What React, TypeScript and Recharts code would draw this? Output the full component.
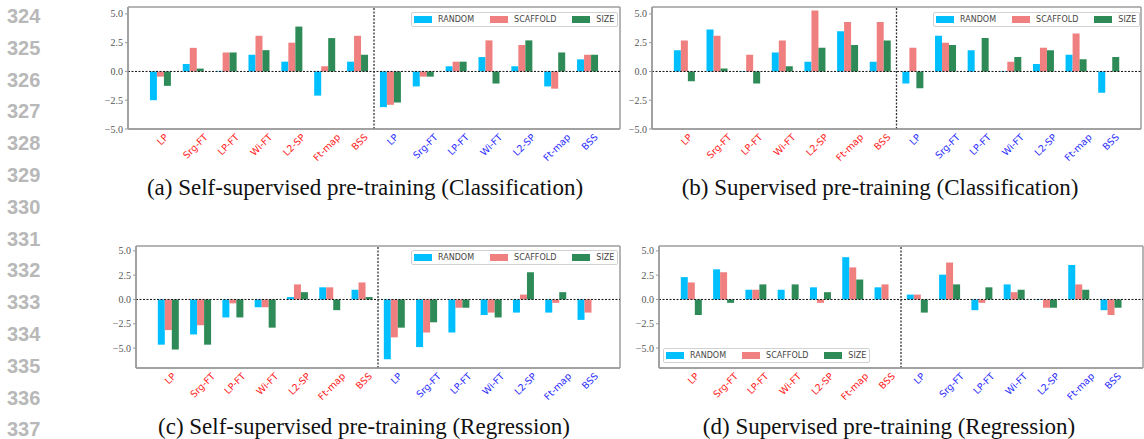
import React from 'react';
import { BarChart, Bar, XAxis, YAxis, ReferenceLine, Legend, CartesianGrid } from 'recharts';

// methods, shown twice per panel: red-labelled half then blue-labelled half
const METHODS = ['LP', 'Srg-FT', 'LP-FT', 'Wi-FT', 'L2-SP', 'Ft-map', 'BSS'];
const HALVES = ['red', 'blue'];
const SPLITS = ['RANDOM', 'SCAFFOLD', 'SIZE'];
const SPLIT_COLORS = ['#00bfff', '#f08080', '#2e8b57'];
const Y_TICKS = [-5, -2.5, 0, 2.5, 5];
const LINE_NUMBERS = ['324', '325', '326', '327', '328', '329', '330', '331', '332', '333', '334', '335', '336', '337'];

// (a) Self-supervised pre-training (Classification)
const A_RANDOM = [-2.5, 0.65, 0.05, 1.45, 0.85, -2.1, 0.85, -3.1, -1.3, 0.45, 1.25, 0.45, -1.3, 1.05];
const A_SCAFFOLD = [-0.45, 2.05, 1.65, 3.1, 2.5, 0.45, 3.1, -2.9, -0.45, 0.85, 2.7, 2.3, -1.5, 1.45];
const A_SIZE = [-1.25, 0.25, 1.65, 1.85, 3.9, 2.9, 1.45, -2.7, -0.45, 0.85, -1.05, 2.7, 1.65, 1.45];

// (b) Supervised pre-training (Classification)
const B_RANDOM = [1.85, 3.65, 0.05, 1.65, 0.85, 3.5, 0.85, -1.05, 3.1, 1.85, 0.05, 0.65, 1.45, -1.85];
const B_SCAFFOLD = [2.7, 3.1, 1.45, 2.7, 5.3, 4.3, 4.3, 2.05, 2.5, 0, 0.85, 2.05, 3.3, 0.05];
const B_SIZE = [-0.85, 0.25, -1.05, 0.45, 2.05, 2.3, 2.7, -1.45, 2.3, 2.9, 1.25, 1.85, 1.05, 1.25];

// (c) Self-supervised pre-training (Regression)
const C_RANDOM = [-4.65, -3.6, -1.85, -0.8, 0.25, 1.25, 1.0, -6.15, -4.9, -3.4, -1.6, -1.35, -1.35, -2.1];
const C_SCAFFOLD = [-3.15, -2.65, -0.4, -0.8, 1.55, 1.25, 1.75, -3.9, -3.4, -0.85, -1.35, 0.5, -0.35, -1.35];
const C_SIZE = [-5.15, -4.65, -1.85, -2.9, 0.75, -1.1, 0.25, -2.9, -2.35, -0.85, -1.85, 2.8, 0.75, 0];

// (d) Supervised pre-training (Regression)
const D_RANDOM = [2.3, 3.1, 1.0, 1.0, 1.25, 4.35, 1.25, 0.5, 2.55, -1.1, 1.55, 0.05, 3.55, -1.1];
const D_SCAFFOLD = [1.75, 2.8, 1.0, 0, -0.35, 3.3, 1.55, 0.5, 3.8, -0.35, 0.75, -0.85, 1.55, -1.6];
const D_SIZE = [-1.6, -0.35, 1.55, 1.55, 0.75, 2.05, 0, -1.35, 1.55, 1.25, 1.0, -0.85, 1.0, -0.85];

const makeRows = (random: number[], scaffold: number[], size: number[]) =>
  HALVES.flatMap((half, h) =>
    METHODS.map((m, i) => ({
      key: `${half}:${m}`,
      RANDOM: random[h * METHODS.length + i],
      SCAFFOLD: scaffold[h * METHODS.length + i],
      SIZE: size[h * METHODS.length + i],
    }))
  );

const PANELS = [
  { id: 'a', left: 90, top: 0, width: 531, domain: [-5, 5.6], rows: makeRows(A_RANDOM, A_SCAFFOLD, A_SIZE), legend: { left: 321, top: 12 },
    caption: '(a) Self-supervised pre-training (Classification)', capX: 365, capY: 188 },
  { id: 'b', left: 614, top: 0, width: 528, domain: [-5, 5.6], rows: makeRows(B_RANDOM, B_SCAFFOLD, B_SIZE), legend: { left: 319, top: 12 },
    caption: '(b) Supervised pre-training (Classification)', capX: 880, capY: 188 },
  { id: 'c', left: 98, top: 239, width: 523, domain: [-7.05, 5.5], rows: makeRows(C_RANDOM, C_SCAFFOLD, C_SIZE), legend: { left: 313, top: 11 },
    caption: '(c) Self-supervised pre-training (Regression)', capX: 364, capY: 427 },
  { id: 'd', left: 621, top: 239, width: 523, domain: [-7.05, 5.5], rows: makeRows(D_RANDOM, D_SCAFFOLD, D_SIZE), legend: { left: 42, top: 109 },
    caption: '(d) Supervised pre-training (Regression)', capX: 889, capY: 427 },
];

const RED = '#ff2020';
const BLUE = '#2a2aff';
const FRAME = { stroke: '#9c9c9c', strokeWidth: 1.5 };
const TICK_FONT = 'DejaVu Sans';
const TICK_SIZE = 9.5;

let measureCtx: CanvasRenderingContext2D | null = null;
const textWidth = (s: string, font: string) => {
  if (!measureCtx) measureCtx = document.createElement('canvas').getContext('2d');
  if (!measureCtx) return s.length * 5.2;
  measureCtx.font = font;
  return measureCtx.measureText(s).width;
};

// matplotlib-style 45° label, bbox top hanging just under the axis
const SlantTick = (props: any) => {
  const { x, y, payload } = props;
  const [half, name] = String(payload.value).split(':');
  const w = textWidth(name, `${TICK_SIZE}px "${TICK_FONT}"`);
  const d = ((w + TICK_SIZE) * Math.SQRT1_2) / 2;
  const cx = x + 2;
  const cy = y + 3 + d;
  return (
    <text x={cx} y={cy} transform={`rotate(-45 ${cx} ${cy})`} textAnchor="middle" dominantBaseline="central"
      fontSize={TICK_SIZE} fontFamily={TICK_FONT} fill={half === 'red' ? RED : BLUE}>
      {name}
    </text>
  );
};

const fmtY = (v: number) => (v < 0 ? '\u2212' + Math.abs(v).toFixed(1) : v.toFixed(1));

// plot frame drawn on the chart's own offset box
const frameRows = ({ offset }: any) => [offset.top, offset.top + offset.height];
const frameCols = ({ offset }: any) => [offset.left, offset.left + offset.width];

const LegendBox = ({ payload }: any) => (
  <div style={{
    display: 'flex', alignItems: 'center', border: '1px solid #d2d2d2', borderRadius: 2, background: 'rgba(255,255,255,0.85)',
    padding: '2px 3px 2px 2px', fontFamily: TICK_FONT, fontSize: 8, color: '#444', whiteSpace: 'nowrap', lineHeight: '9px',
  }}>
    {(payload || []).map((p: any, i: number) => (
      <span key={i} style={{ display: 'flex', alignItems: 'center', marginRight: i < payload.length - 1 ? 16 : 0 }}>
        <span style={{ display: 'inline-block', width: 18, height: 7, background: p.color, marginRight: 6 }} />
        {p.value}
      </span>
    ))}
  </div>
);

const Panel = ({ p }: { p: (typeof PANELS)[number] }) => (
  <div style={{ position: 'absolute', left: p.left, top: p.top }}>
    <BarChart width={p.width} height={175} data={p.rows} margin={{ top: 7, right: 1, bottom: 0, left: 0 }}
      barCategoryGap="18%" barGap={0} style={{ overflow: 'visible' }}>
      <CartesianGrid horizontalCoordinatesGenerator={frameRows} verticalCoordinatesGenerator={frameCols}
        stroke={FRAME.stroke} strokeWidth={FRAME.strokeWidth} />
      <XAxis dataKey="key" height={46} interval={0} padding={{ left: 16, right: 16 }} tickSize={0} tickMargin={0}
        tick={<SlantTick />} axisLine={FRAME} />
      <YAxis width={38} type="number" domain={p.domain} ticks={Y_TICKS} tickFormatter={fmtY} allowDataOverflow
        tick={{ fontSize: 10, fontFamily: 'Liberation Serif', fill: '#555' }} tickSize={3} tickMargin={2}
        tickLine={{ stroke: '#999' }} axisLine={FRAME} />
      {SPLITS.map((s, i) => (
        <Bar key={s} dataKey={s} name={s} fill={SPLIT_COLORS[i]} isAnimationActive={false} />
      ))}
      <ReferenceLine y={0} stroke="#111" strokeWidth={1} strokeDasharray="2 1.5" />
      <ReferenceLine x="blue:LP" position="start" stroke="#333" strokeWidth={1.3} strokeDasharray="2 1.5" />
      <Legend layout="horizontal" verticalAlign="middle" align="center" content={<LegendBox />}
        wrapperStyle={{ left: p.legend.left, top: p.legend.top, width: 'auto', right: 'auto', bottom: 'auto' }} />
    </BarChart>
  </div>
);

export default function App() {
  return (
    <div style={{ position: 'absolute', left: 0, top: 0, width: 1144, height: 439, background: '#fff', overflow: 'hidden' }}>
      {LINE_NUMBERS.map((n, i) => (
        <div key={n} style={{
          position: 'absolute', left: 7, top: 16 + i * 31.8 - 11, height: 22, lineHeight: '22px',
          fontFamily: 'Liberation Sans', fontWeight: 'bold', fontSize: 20, color: '#b8b8b8',
        }}>{n}</div>
      ))}
      {PANELS.map((p) => <Panel key={p.id} p={p} />)}
      {PANELS.map((p) => (
        <div key={'cap' + p.id} style={{
          position: 'absolute', left: p.capX - 280, top: p.capY - 12, width: 560, height: 24, lineHeight: '24px',
          textAlign: 'center', fontFamily: 'Liberation Serif', fontSize: 23, color: '#111', whiteSpace: 'nowrap',
        }}>{p.caption}</div>
      ))}
    </div>
  );
}
